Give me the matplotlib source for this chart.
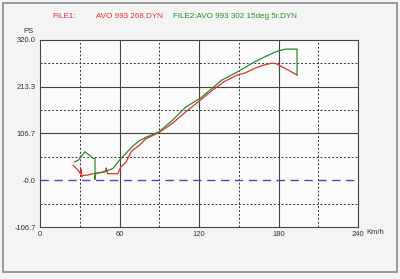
import matplotlib
matplotlib.use('Agg')
import matplotlib.pyplot as plt
from matplotlib.patches import Rectangle

plt.rcParams['font.family'] = ['Liberation Sans', 'DejaVu Sans']

# FILE1 (red) and FILE2 (green) power curves, PS vs Km/h
speed1 = [25, 28.7, 30.5, 31, 31.5, 32.5, 36, 40, 45, 49, 50, 51, 55, 58.7, 61, 65, 69, 75,
          80, 89.5, 100, 110, 120, 130, 139, 149, 155, 162, 168, 175, 178, 185, 194]
power1 = [34, 23, 15, 25, 8, 11, 12, 15, 17.5, 19, 28, 15, 15, 15, 30, 42, 66, 80,
          95, 108, 130, 156, 180, 205, 225, 240, 245, 255, 262, 267, 266, 255, 240]

speed2 = [26, 29, 34, 40, 41.5, 41.5, 42, 46, 50, 55, 60, 65, 70, 75, 80, 89.5, 100, 110,
          121, 130, 137, 149, 162, 170, 178, 185, 194, 194]
power2 = [42, 46, 65, 50, 50, 2, 15, 18, 21, 27, 46, 62, 78, 90, 98, 110, 137, 167,
          187, 210, 228, 247, 270, 282, 293, 299, 299, 240]

xticks = [0, 60, 120, 180, 240]
yticks = [-106.7, 0.0, 106.7, 213.3, 320.0]
ytick_labels = ['-106.7', '-0.0', '106.7', '213.3', '320.0']
x_minor = [30, 90, 150, 210]
y_minor = [-53.3, 53.3, 160.0, 266.7]

fig = plt.figure(figsize=(4, 2.79), dpi=100)
fig.patch.set_facecolor('#f4f4f4')
fig.patches.append(Rectangle((0.008, 0.025), 0.984, 0.965, transform=fig.transFigure,
                             fill=False, edgecolor='#888888', linewidth=1.2))
ax = fig.add_axes([0.1, 0.186, 0.795, 0.671])
ax.set_facecolor('#fbfbfb')

ax.set_xlim(0, 240)
ax.set_ylim(-106.7, 320.0)

for x in xticks[1:-1]:
    ax.axvline(x, color='#444444', linewidth=0.8, zorder=1)
for y in yticks[2:-1]:
    ax.axhline(y, color='#444444', linewidth=0.8, zorder=1)
for x in x_minor:
    ax.axvline(x, color='#333333', linewidth=0.7, linestyle=(0, (2, 2)), zorder=1)
for y in y_minor:
    ax.axhline(y, color='#333333', linewidth=0.7, linestyle=(0, (2, 2)), zorder=1)
ax.axhline(0, color='#4a4ab8', linewidth=1.0, linestyle=(0, (6, 4)), zorder=2)

ax.plot(speed1, power1, color='#e03030', linewidth=0.9, zorder=3)
ax.plot(speed2, power2, color='#2a8a2a', linewidth=0.9, zorder=3)

for s in ax.spines.values():
    s.set_color('#444444')
    s.set_linewidth(0.8)

ax.set_xticks(xticks)
ax.set_xticklabels([str(v) for v in xticks])
ax.set_yticks(yticks)
ax.set_yticklabels(ytick_labels)
ax.tick_params(length=0, labelsize=5.5, colors='#333333', pad=3)

fig.text(0.058, 0.886, 'PS', fontsize=5.5, color='#333333', va='center')
fig.text(0.915, 0.162, 'Km/h', fontsize=5.5, color='#333333')
fig.text(0.13, 0.935, 'FILE1:', fontsize=5.8, color='#e03030')
fig.text(0.24, 0.935, 'AVO 993 268.DYN', fontsize=5.8, color='#e03030')
fig.text(0.432, 0.935, 'FILE2:AVO 993 302 15deg 5r.DYN', fontsize=5.8, color='#2a8a2a')

fig.savefig('out.png', dpi=100, facecolor=fig.get_facecolor())
